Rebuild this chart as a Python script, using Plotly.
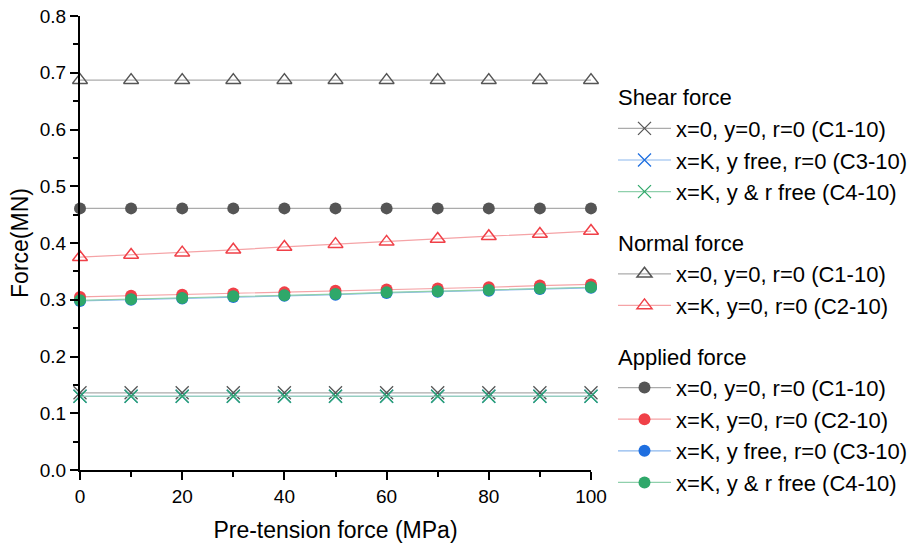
import plotly.graph_objects as go

pretension = [0, 10, 20, 30, 40, 50, 60, 70, 80, 90, 100]

shear_c1 = [0.136] * 11
shear_c3 = [0.130] * 11
shear_c4 = [0.130] * 11

normal_c1 = [0.687] * 11
normal_c2 = [0.375, 0.379, 0.383, 0.388, 0.393, 0.398, 0.402, 0.407, 0.412, 0.416, 0.421]

applied_c1 = [0.461] * 11
applied_c2 = [0.305, 0.307, 0.309, 0.311, 0.313, 0.316, 0.318, 0.320, 0.322, 0.325, 0.327]
applied_c3 = [0.298, 0.300, 0.302, 0.305, 0.307, 0.309, 0.312, 0.314, 0.316, 0.319, 0.321]
applied_c4 = [0.299, 0.301, 0.303, 0.306, 0.308, 0.310, 0.313, 0.315, 0.317, 0.320, 0.322]

labels = {
    "c1": "x=0, y=0, r=0 (C1-10)",
    "c2": "x=K, y=0, r=0 (C2-10)",
    "c3": "x=K, y free, r=0 (C3-10)",
    "c4": "x=K, y & r free (C4-10)",
}

FONT = "Liberation Sans, Arial, sans-serif"
LEG_FS = 22

fig = go.Figure()

def add(y, name, group, gtitle, symbol, mcolor, lcolor, size, open_=False):
    marker = dict(symbol=symbol, size=size, color=mcolor)
    if open_:
        marker["line"] = dict(color=mcolor, width=1.5)
    elif "x" in symbol:
        marker["line"] = dict(color=mcolor, width=1.3)
    else:
        marker["line"] = dict(width=0)
    fig.add_trace(go.Scatter(
        x=pretension, y=y, mode="lines+markers", name=name,
        legendgroup=group,
        legendgrouptitle=dict(text=gtitle, font=dict(size=LEG_FS, color="black", family=FONT)),
        line=dict(color=lcolor, width=1.2),
        marker=marker, cliponaxis=False,
    ))

GRAY_M, GRAY_L = "#555555", "#ababab"
RED_M, RED_L = "#f04048", "#f5a3a6"
BLUE_M, BLUE_L = "#1f6fe0", "#8bb7ee"
GREEN_M, GREEN_L = "#2fa86a", "#8fd0ac"

add(shear_c1, labels["c1"], "shear", "Shear force", "x-thin-open", GRAY_M, GRAY_L, 13)
add(shear_c3, labels["c3"], "shear", "Shear force", "x-thin-open", BLUE_M, BLUE_L, 13)
add(shear_c4, labels["c4"], "shear", "Shear force", "x-thin-open", GREEN_M, GREEN_L, 13)

add(normal_c1, labels["c1"], "normal", "Normal force", "triangle-up-open", GRAY_M, GRAY_L, 13, open_=True)
add(normal_c2, labels["c2"], "normal", "Normal force", "triangle-up-open", RED_M, RED_L, 13, open_=True)

add(applied_c1, labels["c1"], "applied", "Applied force", "circle", GRAY_M, GRAY_L, 12)
add(applied_c2, labels["c2"], "applied", "Applied force", "circle", RED_M, RED_L, 12)
add(applied_c3, labels["c3"], "applied", "Applied force", "circle", BLUE_M, BLUE_L, 12)
add(applied_c4, labels["c4"], "applied", "Applied force", "circle", GREEN_M, GREEN_L, 12)

fig.update_layout(
    width=921, height=545,
    margin=dict(l=80, r=330, t=16, b=75),
    paper_bgcolor="white", plot_bgcolor="white",
    font=dict(family=FONT, size=19, color="black"),
    showlegend=True,
    legend=dict(
        xref="container", yref="container",
        x=613 / 921, y=1 - 76 / 545, xanchor="left", yanchor="top",
        traceorder="grouped", tracegroupgap=19,
        font=dict(size=LEG_FS, family=FONT, color="black"),
        itemwidth=53, bgcolor="rgba(0,0,0,0)", maxheight=1,
    ),
)

fig.update_xaxes(
    range=[0, 100], showgrid=False, zeroline=False, automargin=False,
    showline=True, linecolor="black", linewidth=2,
    ticks="outside", tickwidth=2, ticklen=8, tickcolor="black",
    tickvals=[0, 20, 40, 60, 80, 100],
    minor=dict(tickvals=[10, 30, 50, 70, 90], ticks="outside", ticklen=5, tickwidth=2, tickcolor="black"),
    tickfont=dict(size=19),
    title=dict(text="Pre-tension force (MPa)", font=dict(size=23), standoff=16),
)
fig.update_yaxes(
    range=[0, 0.8], showgrid=False, zeroline=False, automargin=False,
    showline=True, linecolor="black", linewidth=2,
    ticks="outside", tickwidth=2, ticklen=8, tickcolor="black",
    tickvals=[0, 0.1, 0.2, 0.3, 0.4, 0.5, 0.6, 0.7, 0.8], tickformat=".1f",
    minor=dict(tickvals=[0.05, 0.15, 0.25, 0.35, 0.45, 0.55, 0.65, 0.75], ticks="outside", ticklen=5, tickwidth=2, tickcolor="black"),
    tickfont=dict(size=19),
    title=dict(text="Force(MN)", font=dict(size=23), standoff=5),
)

fig.write_html("out.html", config={"displayModeBar": False},
               post_script="document.body.style.margin='0px';")
